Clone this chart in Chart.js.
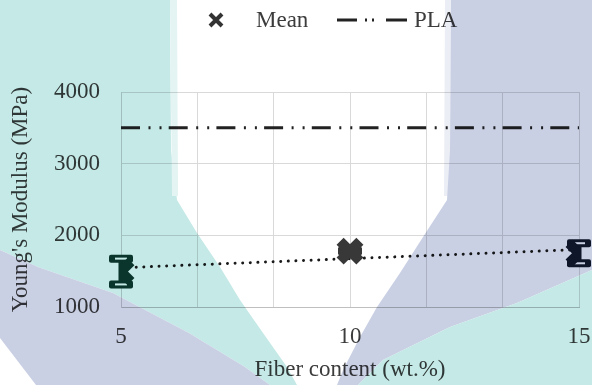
<!DOCTYPE html>
<html>
<head>
<meta charset="utf-8">
<script src="https://cdn.jsdelivr.net/npm/chart.js@4.4.1/dist/chart.umd.min.js"></script>
<style>
  html, body { margin: 0; padding: 0; background: #ffffff; }
  #wrap { position: relative; width: 592px; height: 385px; overflow: hidden; }
  #chart { position: absolute; left: 0; top: 0; }
  .legend { position: absolute; top: 0; height: 40px; display: flex; align-items: center;
            font-family: "Liberation Serif", "Times New Roman", serif; font-size: 23px; color: #3c3c3c; }
  .legend svg { display: block; }
  #tint { position: absolute; left: 0; top: 0; pointer-events: none; mix-blend-mode: multiply; }
</style>
</head>
<body>
<div id="wrap">
  <canvas id="chart" width="592" height="385"></canvas>
  <div class="legend" style="left:207px;">
    <svg width="18" height="18" viewBox="0 0 18 18"><path d="M3 3 L15 15 M15 3 L3 15" stroke="#333" stroke-width="4" stroke-linecap="butt"/></svg>
    <span style="margin-left:31px;">Mean</span>
  </div>
  <div class="legend" style="left:337px;">
    <svg width="70" height="10" viewBox="0 0 70 10"><line x1="0" y1="5" x2="70" y2="5" stroke="#222" stroke-width="3" stroke-dasharray="20 8 2 5 2 12 21 100"/></svg>
    <span style="margin-left:7px;">PLA</span>
  </div>
  <svg id="tint" width="592" height="385" viewBox="0 0 592 385">
    <polygon fill="#c4e9e6" points="0,0 170,0 171,150 177,200 197,233 220,267 240,300 263,333 287,367 297,385 270,385 245,367 189,333 113,293 38,267 0,250"/>
    <polygon fill="#e3f4f3" points="170,0 177,0 178,196 172,196"/>
    <polygon fill="#cad0e4" points="0,250 38,267 113,293 189,333 245,367 270,385 36,385 0,338"/>
    <polygon fill="#eceef6" points="445,0 451,0 450,196 444,196"/>
    <polygon fill="#cad0e4" points="451,0 592,0 592,270 517,303 450,327 383,360 358,385 337,385 343,370 360,337 377,307 400,273 423,237 447,200 450,150"/>
    <polygon fill="#c4e9e6" points="592,270 592,385 358,385 383,360 450,327 517,303"/>
  </svg>
</div>
<script>
// Fiber content (wt.%) and measured Young's modulus (MPa)
const fiberContent = [5, 10, 15];
const meanModulus = [1495, 1780, 1750];
const modulusError = [180, 0, 140];
const markerColors = ['#0c3a30', '#383838', '#121a2e'];

// Linear trend of the mean values, at its two ends
const trendX = [5, 15];
const trendY = [1547, 1802];

// Neat PLA reference level
const plaX = [5, 15];
const plaY = [3500, 3500];

// Axis ticks
const xGridTicks = [5, 6.667, 8.333, 10, 11.667, 13.333, 15];
const xTickLabels = [5, 10, 15];
const yTickValues = [1000, 2000, 3000, 4000];

const FONT = '"Liberation Serif", "Times New Roman", serif';
const TEXT = '#3c3c3c';

const toPoints = (xs, ys) => xs.map((x, i) => ({ x: x, y: ys[i] }));

// Error bars with flat caps, drawn beneath the mean markers
const errorBars = {
  id: 'errorBars',
  beforeDatasetsDraw(chart) {
    const { ctx, scales: { x, y } } = chart;
    ctx.save();
    fiberContent.forEach((fc, i) => {
      const px = x.getPixelForValue(fc);
      const hi = y.getPixelForValue(meanModulus[i] + modulusError[i]);
      const lo = y.getPixelForValue(meanModulus[i] - modulusError[i]);
      ctx.fillStyle = markerColors[i];
      ctx.fillRect(px - 2.5, hi, 5, lo - hi);
      [hi, lo].forEach(cy => {
        ctx.fillStyle = markerColors[i];
        ctx.beginPath();
        ctx.roundRect(px - 12, cy - 4, 24, 8, 2);
        ctx.fill();
        ctx.fillStyle = '#ffffff';
        ctx.fillRect(px - 6, cy - 1, 12, 2);
      });
    });
    ctx.restore();
  }
};

new Chart(document.getElementById('chart'), {
  type: 'scatter',
  data: {
    datasets: [
      {
        label: 'Mean',
        data: toPoints(fiberContent, meanModulus),
        pointStyle: 'crossRot',
        pointRadius: 14,
        pointBorderWidth: 10,
        pointBorderColor: markerColors,
        pointBackgroundColor: markerColors,
        showLine: false,
        order: 1
      },
      {
        label: 'Trend',
        data: toPoints(trendX, trendY),
        showLine: true,
        pointRadius: 0,
        borderColor: '#1a1a1a',
        borderWidth: 3,
        borderDash: [0.01, 7.6],
        borderCapStyle: 'round',
        order: 2
      },
      {
        label: 'PLA',
        data: toPoints(plaX, plaY),
        showLine: true,
        pointRadius: 0,
        borderColor: '#222222',
        borderWidth: 3,
        borderDash: [19, 8.5, 2, 9, 2, 7.2],
        borderCapStyle: 'butt',
        order: 3
      }
    ]
  },
  options: {
    responsive: false,
    animation: false,
    devicePixelRatio: 1,
    layout: { autoPadding: false, padding: { top: 92, right: 13, bottom: 0, left: 0 } },
    plugins: { legend: { display: false }, tooltip: { enabled: false } },
    scales: {
      x: {
        type: 'linear',
        min: 5,
        max: 15,
        afterBuildTicks(scale) { scale.ticks = xGridTicks.map(v => ({ value: v })); },
        afterFit(scale) {
          scale.height = 78;
          scale.paddingLeft = 0;
          scale.paddingRight = 0;
        },
        grid: { color: '#d9d9d9', lineWidth: 1, drawTicks: false },
        border: { color: '#bfbfbf', width: 1 },
        ticks: {
          padding: 16,
          color: TEXT,
          font: { family: FONT, size: 23 },
          maxRotation: 0,
          autoSkip: false,
          callback: v => (xTickLabels.some(t => Math.abs(t - v) < 1e-6) ? String(Math.round(v)) : '')
        },
        title: {
          display: true,
          text: 'Fiber content (wt.%)',
          color: TEXT,
          font: { family: FONT, size: 23 },
          padding: { top: 0, bottom: 1 }
        }
      },
      y: {
        min: 1000,
        max: 4000,
        afterBuildTicks(scale) { scale.ticks = yTickValues.map(v => ({ value: v })); },
        afterFit(scale) { scale.width = 121; },
        grid: { color: '#d9d9d9', lineWidth: 1, drawTicks: false },
        border: { color: '#d0d0d0', width: 1 },
        ticks: {
          padding: 21,
          color: TEXT,
          font: { family: FONT, size: 23 },
          callback: v => String(v)
        },
        title: {
          display: true,
          text: "Young's Modulus (MPa)",
          color: TEXT,
          font: { family: FONT, size: 23 },
          padding: { top: 7, bottom: 0 }
        }
      }
    }
  },
  plugins: [errorBars]
});
</script>
</body>
</html>
